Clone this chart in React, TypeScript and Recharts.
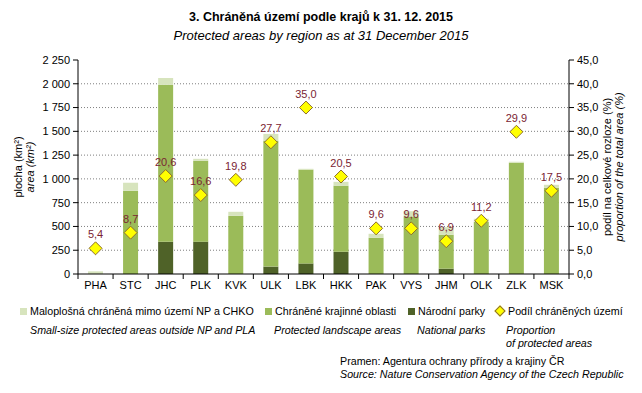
import { ComposedChart, Bar, Line, XAxis, YAxis, CartesianGrid, LabelList } from 'recharts';

const regions = ['PHA', 'STC', 'JHC', 'PLK', 'KVK', 'ULK', 'LBK', 'HKK', 'PAK', 'VYS', 'JHM', 'OLK', 'ZLK', 'MSK'];
const narodniParky = [0, 0, 339, 340, 0, 78, 111, 234, 0, 0, 56, 0, 0, 0];
const chko = [0, 875, 1649, 850, 612, 1322, 984, 693, 381, 605, 357, 549, 1169, 906];
const maloplosna = [28, 84, 73, 21, 42, 73, 11, 42, 42, 55, 80, 32, 10, 32];
const podil = [5.4, 8.7, 20.6, 16.6, 19.8, 27.7, 35.0, 20.5, 9.6, 9.6, 6.9, 11.2, 29.9, 17.5];
const leftTicks = [0, 250, 500, 750, 1000, 1250, 1500, 1750, 2000, 2250];
const rightTicks = [0, 5, 10, 15, 20, 25, 30, 35, 40, 45];

const data = regions.map((name, i) => ({
  name,
  np: narodniParky[i],
  chko: chko[i],
  malo: maloplosna[i],
  podil: podil[i],
}));

const FONT = '"Liberation Sans", Arial, sans-serif';
const LIGHT = '#d7e4bd';
const MID = '#9bbb59';
const DARK = '#4f6228';
const BAND = 491 / regions.length;

const fmtLeft = (v: number) => (v >= 1000 ? `${Math.floor(v / 1000)} ${String(v % 1000).padStart(3, '0')}` : String(v));
const fmtRight = (v: number) => v.toFixed(1).replace('.', ',');

const XTick = (props: any) => {
  const { x, y, payload, index } = props;
  const axisY = y - 7;
  return (
    <g>
      <line x1={x - BAND / 2} x2={x - BAND / 2} y1={axisY} y2={axisY + 5} stroke="#000" />
      {index === regions.length - 1 && (
        <line x1={x + BAND / 2} x2={x + BAND / 2} y1={axisY} y2={axisY + 5} stroke="#000" />
      )}
      <text x={x} y={y} dy="0.75em" textAnchor="middle" fontSize={11} fill="#000" fontFamily={FONT}>
        {payload.value}
      </text>
    </g>
  );
};

const Diamond = (props: any) => {
  const { cx, cy } = props;
  if (cx == null || cy == null) return null;
  const r = 6.5;
  return (
    <path
      d={`M${cx},${cy - r} L${cx + r},${cy} L${cx},${cy + r} L${cx - r},${cy} Z`}
      fill="#ffff00"
      stroke="#8c6d2c"
      strokeWidth={1}
    />
  );
};

const LeftLabel = (props: any) => {
  const { viewBox } = props;
  const cy = viewBox.y + viewBox.height / 2;
  return (
    <g fontFamily={FONT} fontSize={11} fill="#000">
      <text x={22} y={cy} textAnchor="middle" transform={`rotate(-90 22 ${cy})`}>plocha (km²)</text>
      <text x={34} y={cy} textAnchor="middle" fontStyle="italic" transform={`rotate(-90 34 ${cy})`}>area (km²)</text>
    </g>
  );
};

const RightLabel = (props: any) => {
  const { viewBox } = props;
  const cy = viewBox.y + viewBox.height / 2;
  return (
    <g fontFamily={FONT} fontSize={11} fill="#000">
      <text x={611} y={cy} textAnchor="middle" transform={`rotate(-90 611 ${cy})`}>podíl na celkové rozloze (%)</text>
      <text x={623} y={cy} textAnchor="middle" fontStyle="italic" transform={`rotate(-90 623 ${cy})`}>proportion of the total area (%)</text>
    </g>
  );
};

const box = (color: string) => (
  <span style={{ display: 'inline-block', width: 7, height: 7, background: color, marginRight: 3, verticalAlign: 'middle', position: 'relative', top: -1 }} />
);

const abs = (left: number, top: number, extra: any = {}) => ({
  position: 'absolute' as const,
  left,
  top,
  whiteSpace: 'nowrap' as const,
  fontFamily: FONT,
  fontSize: 10.7,
  color: '#000',
  lineHeight: '13px',
  ...extra,
});

const App = () => {
  return (
    <div style={{ position: 'absolute', left: 0, top: 0, width: 642, height: 393, background: '#fff', fontFamily: FONT }}>
      <div style={{ ...abs(0, 11, { width: 642, textAlign: 'center', fontWeight: 'bold', fontSize: 12.5 }) }}>
        3. Chráněná území podle krajů k 31. 12. 2015
      </div>
      <div style={{ ...abs(0, 29, { width: 642, textAlign: 'center', fontStyle: 'italic', fontSize: 13 }) }}>
        Protected areas by region as at 31 December 2015
      </div>
      <ComposedChart
        width={642}
        height={393}
        data={data}
        margin={{ top: 60, right: 0, bottom: 99, left: 0 }}
        barCategoryGap="28%"
      >
        <CartesianGrid
          vertical={false}
          stroke="#7f7f7f"
          strokeDasharray="1 2"
          yAxisId="left"
          horizontalValues={[250, 500, 750, 1000, 1250, 1500, 1750, 2000]}
        />
        <XAxis
          dataKey="name"
          tickLine={false}
          tickSize={5}
          tickMargin={2}
          height={20}
          axisLine={{ stroke: '#000' }}
          tick={<XTick />}
          interval={0}
        />
        <YAxis
          yAxisId="left"
          width={78}
          domain={[0, 2250]}
          ticks={leftTicks}
          tickFormatter={fmtLeft}
          tickSize={5}
          tickMargin={3}
          axisLine={{ stroke: '#000' }}
          tickLine={{ stroke: '#000' }}
          tick={{ fill: '#000', fontSize: 11, fontFamily: FONT }}
          interval={0}
          label={<LeftLabel />}
        />
        <YAxis
          yAxisId="right"
          orientation="right"
          width={73}
          domain={[0, 45]}
          ticks={rightTicks}
          tickFormatter={fmtRight}
          tickSize={5}
          tickMargin={3}
          axisLine={{ stroke: '#000' }}
          tickLine={{ stroke: '#000' }}
          tick={{ fill: '#000', fontSize: 11, fontFamily: FONT }}
          interval={0}
          label={<RightLabel />}
        />
        <Bar yAxisId="left" dataKey="np" stackId="a" fill={DARK} barSize={15} isAnimationActive={false} />
        <Bar yAxisId="left" dataKey="chko" stackId="a" fill={MID} barSize={15} isAnimationActive={false} />
        <Bar yAxisId="left" dataKey="malo" stackId="a" fill={LIGHT} barSize={15} isAnimationActive={false} />
        <Line
          yAxisId="right"
          dataKey="podil"
          stroke="none"
          dot={<Diamond />}
          activeDot={false}
          isAnimationActive={false}
        >
          <LabelList
            dataKey="podil"
            position="top"
            offset={10}
            formatter={(v: any) => fmtRight(Number(v))}
            fill="#7a2433"
            fontSize={11}
            fontFamily={FONT}
          />
        </Line>
      </ComposedChart>
      <div style={abs(20, 305)}>{box(LIGHT)}Maloplošná chráněná mimo území NP a CHKO</div>
      <div style={abs(265, 305)}>{box(MID)}Chráněné krajinné oblasti</div>
      <div style={abs(408, 305)}>{box(DARK)}Národní parky</div>
      <div style={abs(495, 305)}>
        <span style={{ display: 'inline-block', width: 6, height: 6, background: '#ffff00', border: '1px solid #8c6d2c', transform: 'rotate(45deg)', marginRight: 4, marginLeft: 1, verticalAlign: 'middle', position: 'relative', top: -1 }} />
        Podíl chráněných území
      </div>
      <div style={abs(30, 324, { fontStyle: 'italic' })}>Small-size protected areas outside NP and PLA</div>
      <div style={abs(274, 324, { fontStyle: 'italic' })}>Protected landscape areas</div>
      <div style={abs(417, 324, { fontStyle: 'italic' })}>National parks</div>
      <div style={abs(506, 324, { fontStyle: 'italic' })}>Proportion<br />of protected areas</div>
      <div style={abs(340, 355)}>Pramen: Agentura ochrany přírody a krajiny ČR</div>
      <div style={abs(340, 368, { fontStyle: 'italic' })}>Source: Nature Conservation Agency of the Czech Republic</div>
    </div>
  );
};

export default App;
